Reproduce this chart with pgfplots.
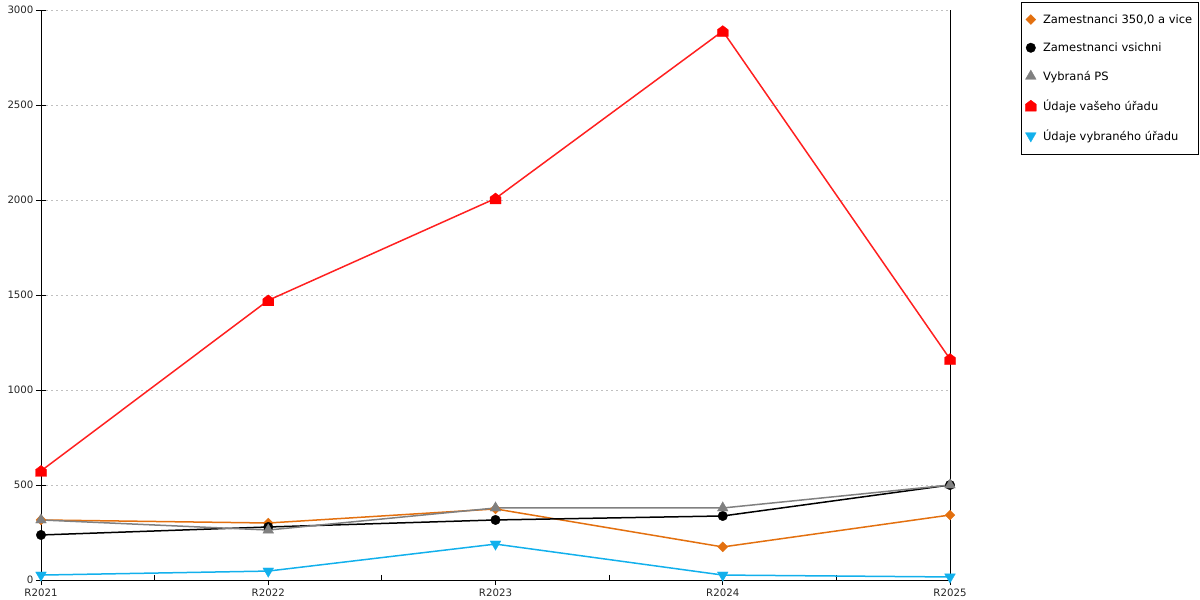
\documentclass[border=0pt]{standalone}
\usepackage{fontspec}
\setmainfont{DejaVu Sans}
\usepackage{pgfplots}
\pgfplotsset{compat=1.18}
\definecolor{cOrange}{HTML}{E3700F}
\definecolor{cGray}{HTML}{808080}
\definecolor{cRed}{HTML}{FF2020}
\definecolor{cBlue}{HTML}{12B0EC}
\definecolor{cGrid}{HTML}{C0C0C0}
\pgfdeclareplotmark{house}{%
  \pgfpathmoveto{\pgfqpoint{-\pgfplotmarksize}{-\pgfplotmarksize}}%
  \pgfpathlineto{\pgfqpoint{\pgfplotmarksize}{-\pgfplotmarksize}}%
  \pgfpathlineto{\pgfqpoint{\pgfplotmarksize}{0.25\pgfplotmarksize}}%
  \pgfpathlineto{\pgfqpoint{0pt}{\pgfplotmarksize}}%
  \pgfpathlineto{\pgfqpoint{-\pgfplotmarksize}{0.25\pgfplotmarksize}}%
  \pgfpathclose
  \pgfusepathqfillstroke}
\pgfdeclareplotmark{rdiamond}{%
  \pgfpathmoveto{\pgfqpoint{0pt}{\pgfplotmarksize}}%
  \pgfpathlineto{\pgfqpoint{\pgfplotmarksize}{0pt}}%
  \pgfpathlineto{\pgfqpoint{0pt}{-\pgfplotmarksize}}%
  \pgfpathlineto{\pgfqpoint{-\pgfplotmarksize}{0pt}}%
  \pgfpathclose
  \pgfusepathqfillstroke}
\begin{document}
\fontsize{10pt}{12pt}\selectfont
\begin{tikzpicture}[x=1pt,y=1pt]
\path[use as bounding box] (0,0) rectangle (1200,600);
\begin{axis}[
  at={(41pt,20pt)}, anchor=south west,
  scale only axis, width=909pt, height=570pt,
  xmin=0, xmax=4, ymin=0, ymax=3000,
  axis x line=bottom, axis y line=left,
  axis line style={-, black, line width=0.8pt},
  xtick={0,1,2,3,4},
  xticklabels={R2021,R2022,R2023,R2024,R2025},
  minor xtick={0.5,1.5,2.5,3.5},
  ytick={0,500,1000,1500,2000,2500,3000},
  tick align=outside,
  major tick length=5pt, minor tick length=-5pt,
  tick style={black, line width=0.8pt},
  extra y ticks={0,500,1000,1500,2000,2500,3000},
  extra y tick labels={},
  extra y tick style={major tick length=-5pt, ymajorgrids=false},
  ymajorgrids,
  major grid style={cGrid, dash pattern=on 2pt off 3pt, line width=0.6pt},
  /pgf/number format/assume math mode=true,
  /pgf/number format/set thousands separator={},
  ticklabel style={font=\fontsize{10.2pt}{12pt}\selectfont, text=black!85},
  xticklabel style={yshift=0pt},
  yticklabel style={xshift=1pt},
  clip=false,
  legend style={at={(1.078,1.014)}, anchor=north west,
    draw=black, line width=0.8pt,
    font=\fontsize{11.5pt}{13.8pt}\selectfont,
    row sep=14pt, inner xsep=4pt, inner ysep=10pt,
    cells={anchor=west}},
  legend cell align=left,
  legend image code/.code={\path (0pt,0pt) (14pt,0pt); \draw[#1, only marks] plot coordinates {(4.5pt,0pt)};},
]
\addplot[cOrange, line width=1.5pt, mark=rdiamond, mark size=5pt, mark options={solid, fill=cOrange, line width=0.3pt}]
  coordinates {(0,316) (1,300) (2,374) (3,174) (4,342)};
\addlegendentry{Zamestnanci 350,0 a vice}
\addplot[black, line width=1.5pt, mark=*, mark size=4.8pt, mark options={solid, fill=black, line width=0.3pt}]
  coordinates {(0,237) (1,279) (2,316) (3,337) (4,500)};
\addlegendentry{Zamestnanci vsichni}
\addplot[cGray, line width=1.5pt, mark=triangle*, mark size=6.2pt, mark options={solid, fill=cGray, line width=0.3pt}]
  coordinates {(0,316) (1,263) (2,379) (3,379) (4,500)};
\addlegendentry{Vybraná PS}
\addplot[cRed, line width=1.5pt, mark=house, mark size=5.5pt, mark options={solid, draw=red, fill=red, line width=0.3pt}]
  coordinates {(0,574) (1,1472) (2,2008) (3,2889) (4,1163)};
\addlegendentry{Údaje vašeho úřadu}
\addplot[cBlue, line width=1.5pt, mark=triangle*, mark size=6.2pt, mark options={solid, fill=cBlue, rotate=180, line width=0.3pt}]
  coordinates {(0,26) (1,47) (2,189) (3,26) (4,16)};
\addlegendentry{Údaje vybraného úřadu}
\draw[black, line width=0.8pt] (rel axis cs:1,0) -- (rel axis cs:1,1);
\end{axis}
\end{tikzpicture}
\end{document}
